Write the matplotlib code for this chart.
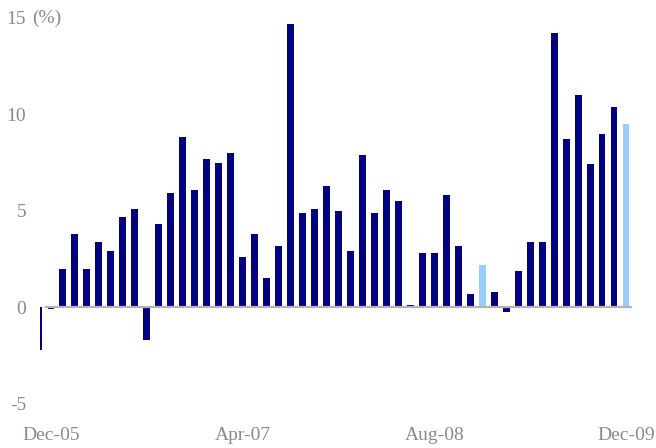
import matplotlib
matplotlib.use("Agg")
import matplotlib.pyplot as plt
import pandas as pd

# Monthly growth (%), Nov-05 .. Dec-09
months = pd.date_range("2005-11-01", "2009-12-01", freq="MS").strftime("%b-%y").tolist()
values = [-2.2, -0.1, 2.0, 3.8, 2.0, 3.4, 2.9, 4.7, 5.1, -1.7,
          4.3, 5.9, 8.8, 6.1, 7.7, 7.5, 8.0, 2.6, 3.8, 1.5,
          3.2, 14.7, 4.9, 5.1, 6.3, 5.0, 2.9, 7.9, 4.9, 6.1,
          5.5, 0.1, 2.8, 2.8, 5.8, 3.2, 0.7, 2.2, 0.8, -0.25,
          1.9, 3.4, 3.4, 14.2, 8.7, 11.0, 7.4, 9.0, 10.4, 9.5]
highlight = ["Dec-08", "Dec-09"]
xtick_labels = ["Dec-05", "Apr-07", "Aug-08", "Dec-09"]
yticks = [-5, 0, 5, 10, 15]
ytick_labels = ["-5", "0", "5", "10", "15"]
unit_label = "(%)"

navy = "#000080"
light = "#99CCFF"
grey_text = "#8a8a8a"

W, H = 656, 448
fig = plt.figure(figsize=(W / 100, H / 100), dpi=100)
ax = fig.add_axes([40 / W, (H - 403.8) / H, 594 / W, (403.8 - 17.8) / H])

x = list(range(len(months)))
colors = [light if m in highlight else navy for m in months]
ax.bar(x, values, width=0.58, color=colors, linewidth=0, zorder=2)
ax.plot([0.5, len(months) - 0.5], [0, 0], color="#b4b4b4", linewidth=1.6, zorder=3,
        solid_capstyle="butt")

ax.set_xlim(0.083, 49.67)
ax.set_ylim(-5, 15)

for s in ax.spines.values():
    s.set_visible(False)

font = dict(family=["Liberation Serif", "DejaVu Serif"], size=14, color=grey_text)
ax.set_xticks([months.index(m) for m in xtick_labels])
ax.set_xticklabels(xtick_labels, **font)
ax.set_yticks(yticks)
ax.set_yticklabels(ytick_labels, **font)
ax.tick_params(axis="x", length=0, pad=17)
ax.tick_params(axis="y", length=0, pad=10)

fig.text(32 / W, 1 - 18.5 / H, unit_label, ha="left", va="center", **font)

fig.savefig("out.png", dpi=100)
